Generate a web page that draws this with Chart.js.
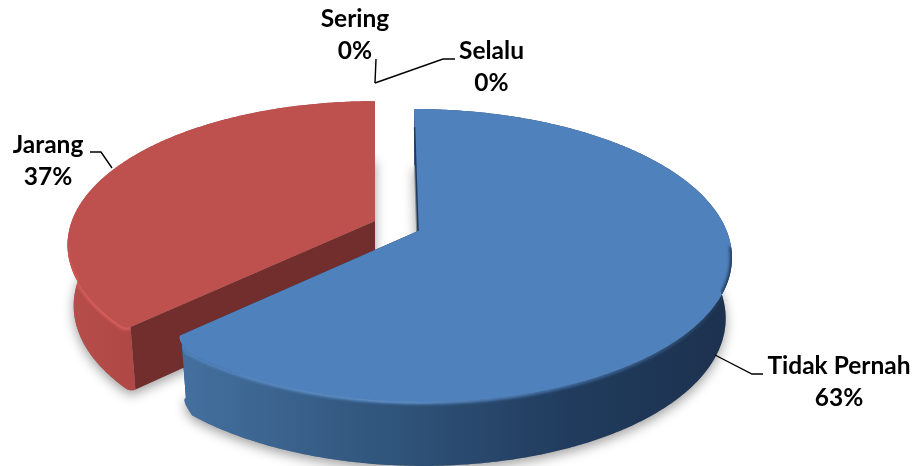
<!DOCTYPE html>
<html>
<head>
<meta charset="utf-8">
<script src="https://cdn.jsdelivr.net/npm/chart.js@4"></script>
<style>
    html, body { margin: 0; padding: 0; background: #fff; }
    #wrap { width: 923px; height: 466px; overflow: hidden; }
</style>
</head>
<body>
<div id="wrap"><canvas id="chart" width="923" height="466"></canvas></div>
<script>
const categories = ['Tidak Pernah', 'Jarang', 'Sering', 'Selalu'];
const percents = [63, 37, 0, 0];
const colors = ['#4F81BD', '#BE504D', '#9BBB59', '#8064A2'];

// 3D look, one entry per slice that has an area
const sliceLook = [
    {
        dx: 21.5, dy: 5, shear: 0.033, scale: 1, corner: 'end', pull: 0.035, round: 0.09,
        wall: [[0, '#44709f'], [0.4, '#2f5379'], [0.7, '#213c5e'], [1, '#1c314e']],
        rim: [[0, '#5587c2'], [0.4, '#659bd8'], [0.6, '#4f81bd'], [0.9, '#30527c'], [1, '#1f3552']],
        rimAxis: 'x', inner: '#1f3a5a'
    },
    {
        dx: -21.5, dy: -5, shear: 0, scale: 0.982, corner: 'start', pull: 0, round: 0.03,
        wall: [[0, '#b64d4a'], [0.35, '#ab4643'], [1, '#a8423f']],
        rim: [[0, '#be504d'], [1, '#e2625e']],
        rimAxis: 'y', inner: '#722e2c'
    }
];

// label blocks and their leader lines, in page pixels
const labelSpots = [
    { x: 839, y: 374, line: [[715, 355], [752, 374], [763, 374]] },
    { x: 48, y: 153, line: [[112, 168], [101, 152], [90, 152]] },
    { x: 355, y: 27, line: [[376, 59], [375, 83]] },
    { x: 491.5, y: 59, line: [[455, 59], [443, 59], [375, 83]] }
];

const tilt = { rx: 1.366, ry: 0.63, k: 0.167, squeeze: 0.98 };

function depthAt(v) {
    return 60 + 4 * v;
}

function project(arc, look, a, lifted) {
    const R = arc.outerRadius * look.scale;
    const u = Math.cos(a), v = Math.sin(a);
    const s = 1 / (1 - tilt.k * v);
    const ax = arc.x + look.dx, ay = arc.y + look.dy;
    let x = R * tilt.rx * u * s;
    const y = R * tilt.ry * v * s;
    x += look.shear * y;
    if (lifted) {
        return [ax + x * tilt.squeeze, ay + y + depthAt(v)];
    }
    return [ax + x, ay + y];
}

function apexOf(arc, look, lifted) {
    const ax = arc.x + look.dx, ay = arc.y + look.dy;
    return lifted ? [ax, ay + depthAt(0)] : [ax, ay];
}

// arc from the back edge round to the front corner, which is rounded off
function rimPoints(arc, look, lifted) {
    const pts = [];
    const toEnd = look.corner === 'end';
    const dir = toEnd ? 1 : -1;
    const from = toEnd ? arc.startAngle : arc.endAngle;
    const cornerAngle = toEnd ? arc.endAngle : arc.startAngle;
    const stop = cornerAngle - dir * look.round;
    for (let a = from; (stop - a) * dir > 0; a += dir * 0.01) {
        pts.push(project(arc, look, a, lifted));
    }
    const p0 = project(arc, look, stop, lifted);
    const tip = project(arc, look, cornerAngle, lifted);
    const apex = apexOf(arc, look, lifted);
    const c = [tip[0] + (apex[0] - tip[0]) * look.pull, tip[1] + (apex[1] - tip[1]) * look.pull];
    const p2 = [c[0] + (apex[0] - c[0]) * 0.02, c[1] + (apex[1] - c[1]) * 0.02];
    for (let t = 0; t <= 1.001; t += 0.1) {
        const m = 1 - t;
        pts.push([
            m * m * p0[0] + 2 * m * t * c[0] + t * t * p2[0],
            m * m * p0[1] + 2 * m * t * c[1] + t * t * p2[1]
        ]);
    }
    return pts;
}

function tracePath(ctx, pts, open) {
    ctx.beginPath();
    pts.forEach((p, i) => i ? ctx.lineTo(p[0], p[1]) : ctx.moveTo(p[0], p[1]));
    if (!open) {
        ctx.closePath();
    }
}

function makeGradient(ctx, stops, x0, y0, x1, y1) {
    const g = ctx.createLinearGradient(x0, y0, x1, y1);
    stops.forEach(s => g.addColorStop(s[0], s[1]));
    return g;
}

// soft shadow on the ground, done before any slice is painted
function drawShadow(ctx, arc, look) {
    ctx.save();
    ctx.shadowColor = 'rgba(0,0,0,0.38)';
    ctx.shadowBlur = 12;
    ctx.shadowOffsetY = 4;
    ctx.fillStyle = '#888';
    tracePath(ctx, [apexOf(arc, look, true), ...rimPoints(arc, look, true)]);
    ctx.fill();
    ctx.restore();
}

function drawSlice(ctx, arc, look, color) {
    const top = rimPoints(arc, look, false);
    const bottom = rimPoints(arc, look, true);
    const apex = apexOf(arc, look, false);
    const apexLow = apexOf(arc, look, true);
    const xs = top.map(p => p[0]);
    const minX = Math.min(...xs), maxX = Math.max(...xs);
    const cornerTop = top[top.length - 1];
    const wallPts = [...top, ...bottom.slice().reverse()];

    // cut face
    ctx.fillStyle = look.inner;
    tracePath(ctx, [cornerTop, apex, apexLow, bottom[bottom.length - 1]]);
    ctx.fill();

    // outer wall
    ctx.fillStyle = makeGradient(ctx, look.wall, minX, 0, maxX, 0);
    tracePath(ctx, wallPts);
    ctx.fill();

    // top face
    ctx.fillStyle = color;
    tracePath(ctx, [apex, ...top]);
    ctx.fill();

    // lit bevel along the front of the rim, kept inside the solid
    const front = top.filter(p => p[1] > apex[1] + 15);
    const rim = look.rimAxis === 'x'
        ? makeGradient(ctx, look.rim, minX, 0, maxX, 0)
        : makeGradient(ctx, look.rim, 0, apex[1] + 15, 0, cornerTop[1] - 20);
    ctx.save();
    tracePath(ctx, wallPts);
    ctx.clip();
    ctx.filter = 'blur(1.5px)';
    ctx.strokeStyle = rim;
    ctx.lineWidth = 4;
    ctx.lineJoin = 'round';
    tracePath(ctx, front, true);
    ctx.stroke();
    ctx.restore();

    // dark sliver beside the straight edge facing the gap
    if (look.shear) {
        const edge = top[0];
        ctx.strokeStyle = look.inner;
        ctx.lineWidth = 1.5;
        ctx.beginPath();
        ctx.moveTo(edge[0] + (apex[0] - edge[0]) * 0.15, edge[1] + (apex[1] - edge[1]) * 0.15);
        ctx.lineTo(apex[0], apex[1]);
        ctx.stroke();
    }
}

const pie3d = {
    id: 'pie3d',
    beforeDatasetsDraw(chart) {
        const ctx = chart.ctx;
        const arcs = chart.getDatasetMeta(0).data;
        [1, 0].forEach(i => drawShadow(ctx, arcs[i], sliceLook[i]));
        // the back slice first, the big blue one over it
        [1, 0].forEach(i => drawSlice(ctx, arcs[i], sliceLook[i], colors[i]));
        return false;
    },
    afterDraw(chart) {
        const ctx = chart.ctx;
        ctx.save();
        ctx.strokeStyle = '#000';
        ctx.lineWidth = 1.4;
        labelSpots.forEach(spot => {
            tracePath(ctx, spot.line, true);
            ctx.stroke();
        });
        ctx.fillStyle = '#000';
        ctx.font = 'bold 24.5px Lato';
        ctx.textAlign = 'center';
        ctx.textBaseline = 'alphabetic';
        labelSpots.forEach((spot, i) => {
            ctx.fillText(categories[i], spot.x, spot.y);
            ctx.fillText(percents[i] + '%', spot.x, spot.y + 32);
        });
        ctx.restore();
    }
};

new Chart(document.getElementById('chart'), {
    type: 'pie',
    data: {
        labels: categories,
        datasets: [{
            data: percents,
            backgroundColor: colors,
            borderWidth: 0
        }]
    },
    options: {
        responsive: false,
        animation: false,
        layout: { padding: { right: 130, bottom: 14 } },
        plugins: {
            legend: { display: false },
            tooltip: { enabled: false }
        }
    },
    plugins: [pie3d]
});
</script>
</body>
</html>
